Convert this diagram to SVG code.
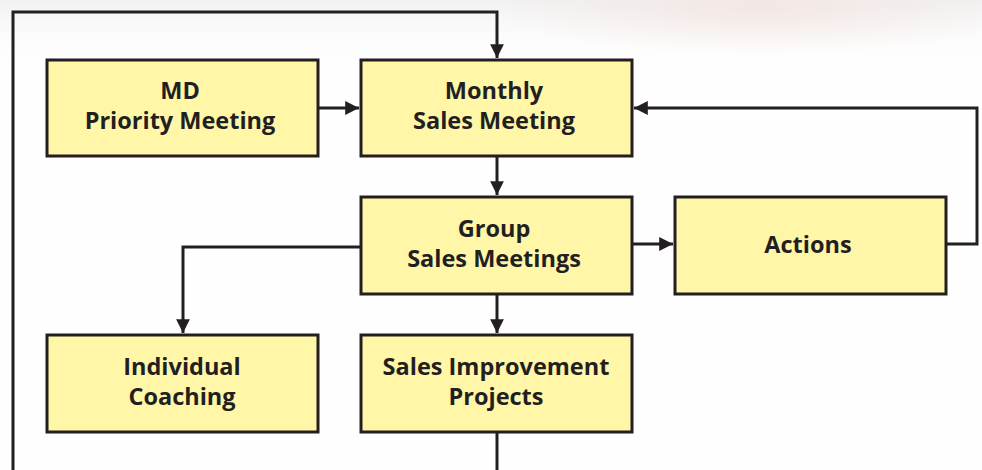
<svg xmlns="http://www.w3.org/2000/svg" width="982" height="470" viewBox="0 0 982 470">
  <defs>
    <radialGradient id="glow" cx="0.5" cy="0.5" r="0.5">
      <stop offset="0" stop-color="#f1dcd6" stop-opacity="0.55"/>
      <stop offset="1" stop-color="#f1dcd6" stop-opacity="0"/>
    </radialGradient>
    <linearGradient id="haze" x1="0" y1="0" x2="0" y2="1">
      <stop offset="0" stop-color="#eeeeee" stop-opacity="0.8"/>
      <stop offset="1" stop-color="#ffffff" stop-opacity="0"/>
    </linearGradient>
    <marker id="arrow" viewBox="0 0 10 10" refX="10" refY="5" markerWidth="4.6" markerHeight="4.6" orient="auto" markerUnits="strokeWidth">
      <path d="M0,0 L10,5 L0,10 z" fill="#231f20"/>
    </marker>
    <style>
      .box { fill: #fff6a8; stroke: #231f20; stroke-width: 3; }
      .lbl { font-family: "Open Sans", "Liberation Sans", sans-serif; font-weight: 700; font-size: 23.5px; fill: #231f20; text-anchor: middle; }
      .wire { fill: none; stroke: #231f20; stroke-width: 3; stroke-linejoin: miter; }
    </style>
  </defs>

  <!-- backdrop -->
  <rect x="0" y="0" width="982" height="470" fill="#fefefe"/>
  <rect x="0" y="0" width="982" height="70" fill="url(#haze)"/>
  <ellipse cx="760" cy="10" rx="260" ry="45" fill="url(#glow)"/>

  <!-- connectors -->
  <g id="connectors">
    <polyline class="wire" points="13,470 13,12 497,12 497,58" marker-end="url(#arrow)"/>
    <line class="wire" x1="318" y1="108" x2="359" y2="108" marker-end="url(#arrow)"/>
    <line class="wire" x1="497" y1="156" x2="497" y2="195" marker-end="url(#arrow)"/>
    <line class="wire" x1="632" y1="244" x2="673" y2="244" marker-end="url(#arrow)"/>
    <polyline class="wire" points="946,244 977,244 977,108 634,108" marker-end="url(#arrow)"/>
    <polyline class="wire" points="361,247 183,247 183,333" marker-end="url(#arrow)"/>
    <line class="wire" x1="497" y1="294" x2="497" y2="333" marker-end="url(#arrow)"/>
    <line class="wire" x1="497" y1="432" x2="497" y2="470"/>
  </g>

  <!-- nodes -->
  <g id="md-priority">
    <rect class="box" x="47" y="60" width="271" height="96"/>
    <text class="lbl" x="180" y="99">MD</text>
    <text class="lbl" x="180" y="129">Priority Meeting</text>
  </g>
  <g id="monthly-sales">
    <rect class="box" x="361" y="60" width="271" height="96"/>
    <text class="lbl" x="494" y="99">Monthly</text>
    <text class="lbl" x="494" y="129">Sales Meeting</text>
  </g>
  <g id="group-sales">
    <rect class="box" x="361" y="197" width="271" height="97"/>
    <text class="lbl" x="494" y="237">Group</text>
    <text class="lbl" x="494" y="267">Sales Meetings</text>
  </g>
  <g id="actions">
    <rect class="box" x="675" y="197" width="271" height="97"/>
    <text class="lbl" x="808" y="253">Actions</text>
  </g>
  <g id="individual-coaching">
    <rect class="box" x="47" y="335" width="271" height="97"/>
    <text class="lbl" x="182" y="375">Individual</text>
    <text class="lbl" x="182" y="405">Coaching</text>
  </g>
  <g id="sales-improvement">
    <rect class="box" x="361" y="335" width="271" height="97"/>
    <text class="lbl" x="496" y="375">Sales Improvement</text>
    <text class="lbl" x="496" y="405">Projects</text>
  </g>
</svg>
